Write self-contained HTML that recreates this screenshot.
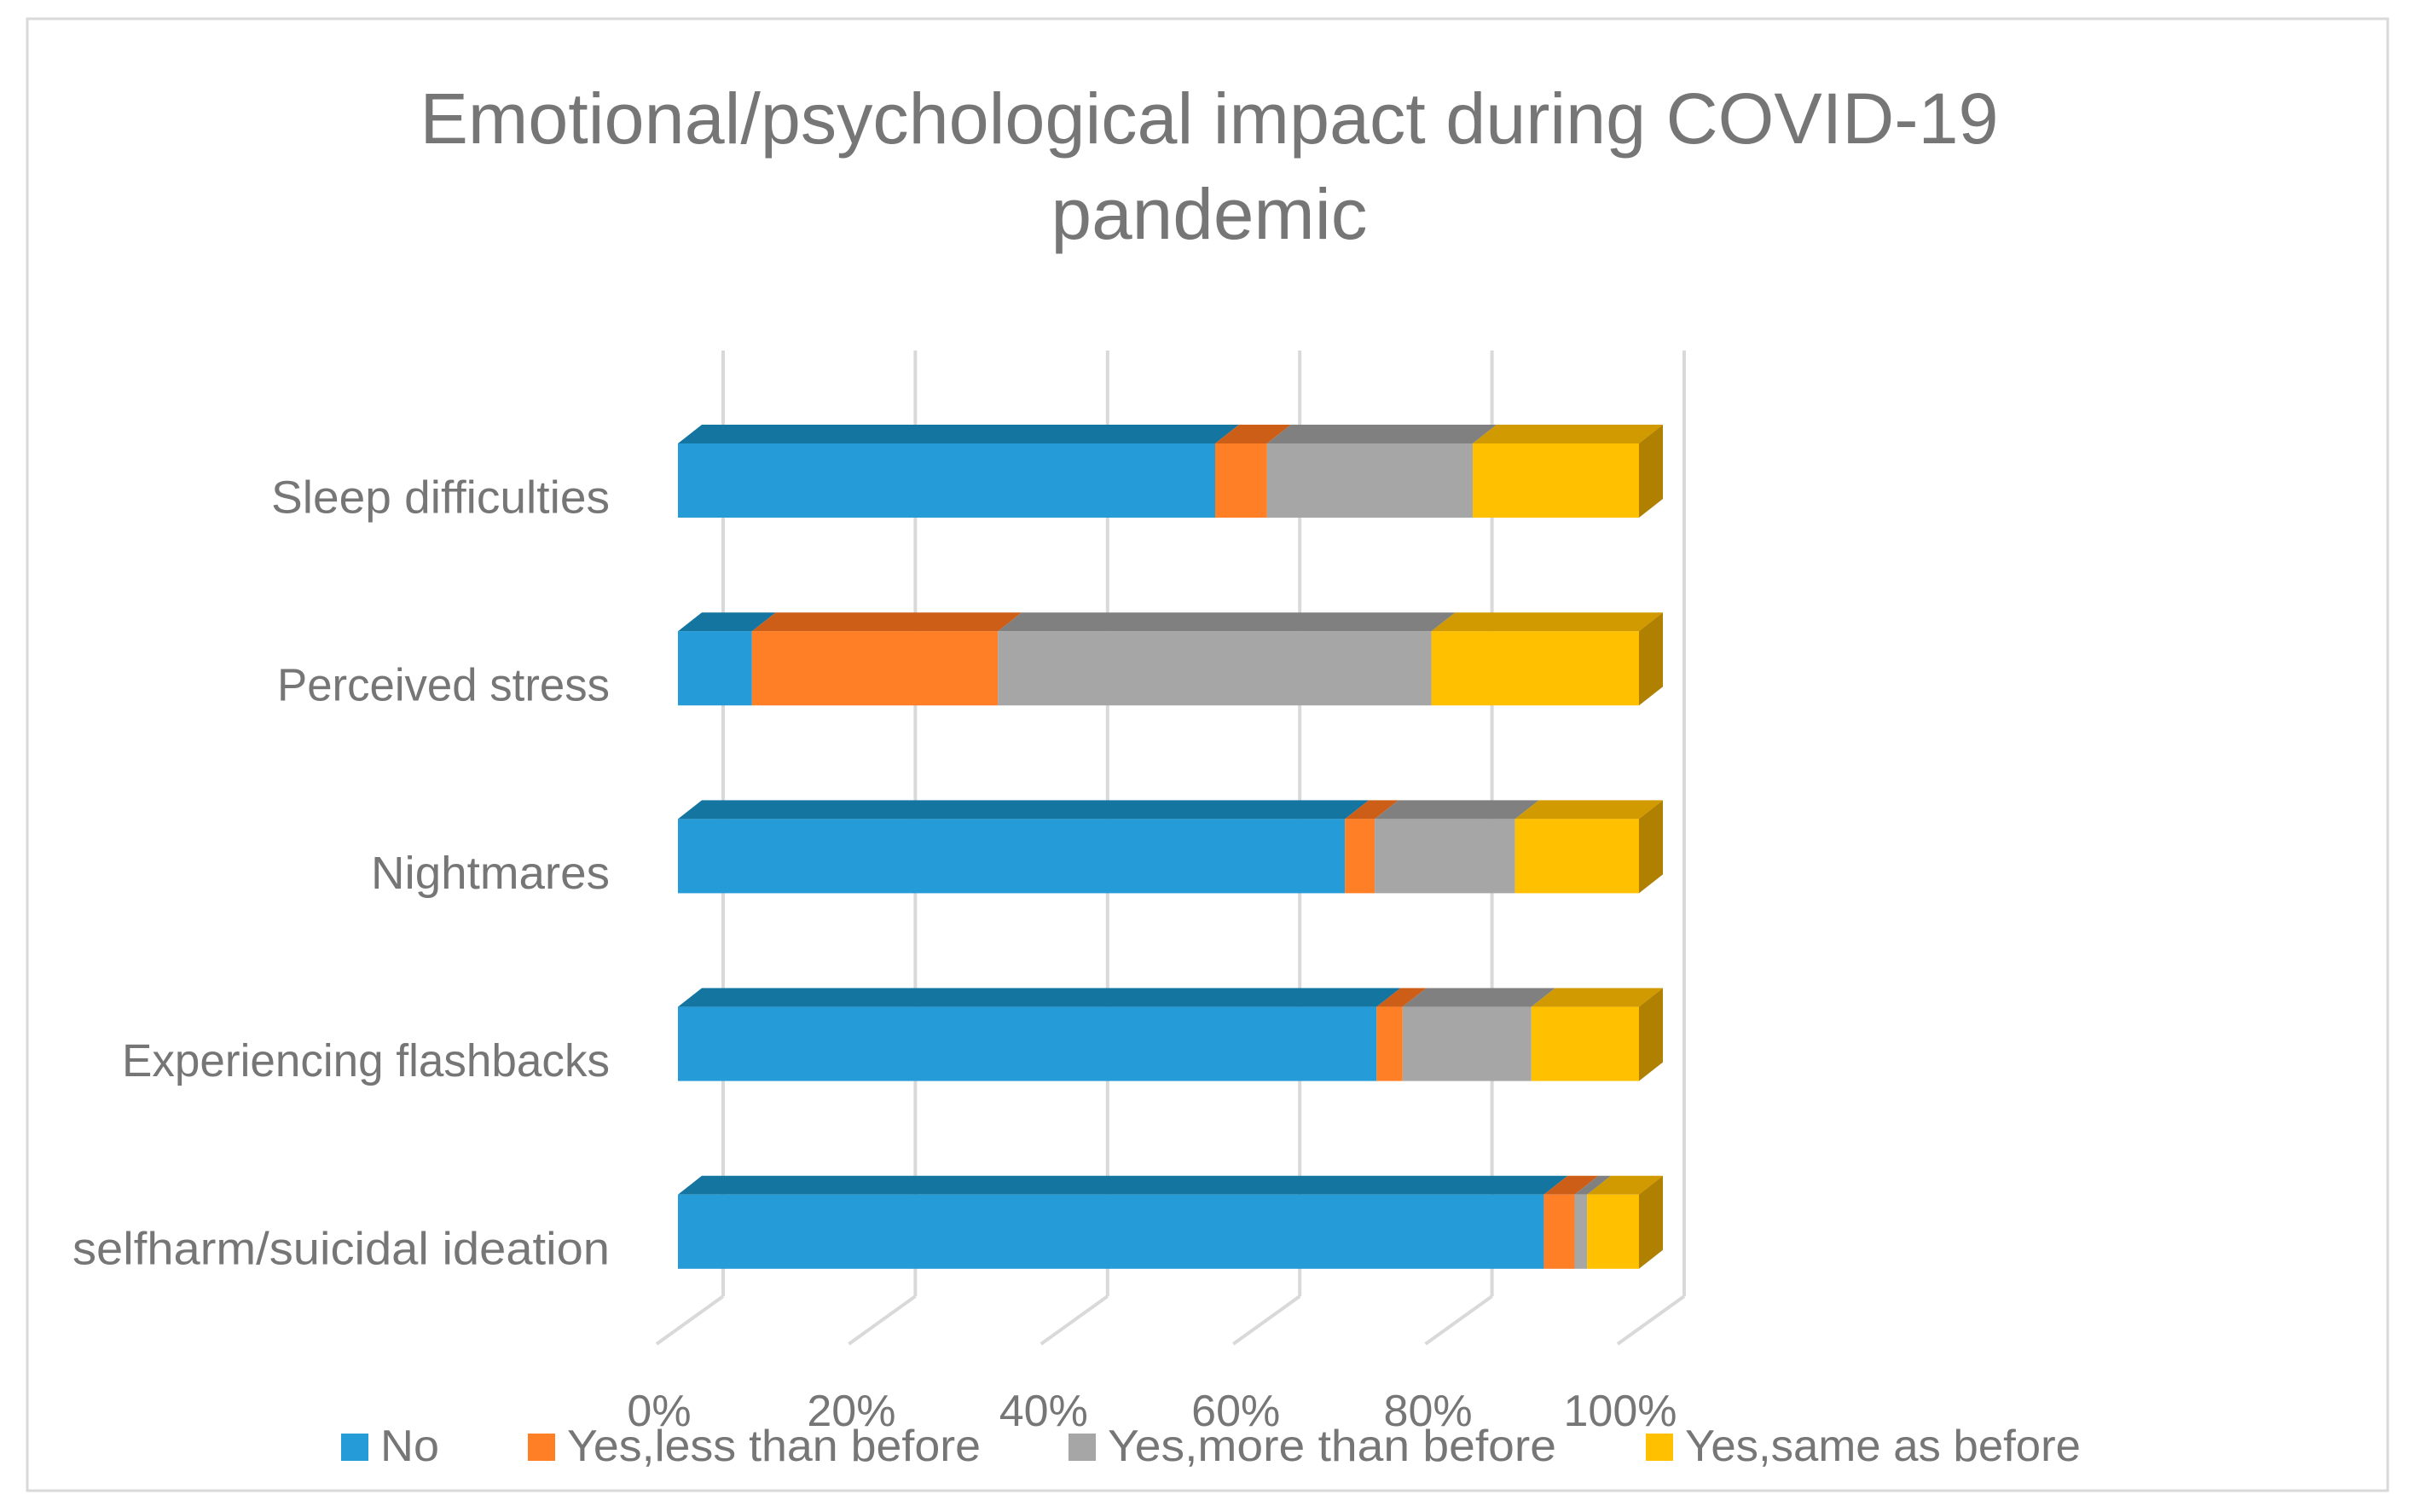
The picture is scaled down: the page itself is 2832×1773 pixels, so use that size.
<!DOCTYPE html>
<html><head><meta charset="utf-8"><style>
html,body{margin:0;padding:0;background:#fff}
svg{display:block}
text{font-family:"Liberation Sans",sans-serif;fill:#767676}
</style></head><body>
<svg id="chart" width="2832" height="1773" viewBox="0 0 2832 1773" xmlns="http://www.w3.org/2000/svg">
<rect x="32" y="22" width="2768" height="1726" fill="#fff" stroke="#d9d9d9" stroke-width="3"/>
<text x="1418" y="168" font-size="84" text-anchor="middle" textLength="1851" lengthAdjust="spacingAndGlyphs">Emotional/psychological impact during COVID-19</text>
<text x="1418" y="280" font-size="84" text-anchor="middle" textLength="371" lengthAdjust="spacingAndGlyphs">pandemic</text>
<g id="grid"></g>
<g id="bars"></g>
<g id="labels"></g>
<g id="ticks"></g>
<g id="legend"></g>
</svg>
<script>
const categories = ["Sleep difficulties","Perceived stress","Nightmares","Experiencing flashbacks","selfharm/suicidal ideation"];
const seriesNames = ["No","Yes,less than before","Yes,more than before","Yes,same as before"];
const noVals = [55.9, 7.7, 69.4, 72.7, 90.1];
const lessVals = [5.4, 25.6, 3.1, 2.7, 3.2];
const moreVals = [21.4, 45.1, 14.6, 13.4, 1.3];
const sameVals = [17.3, 21.6, 12.9, 11.2, 5.4];
const tickLabels = ["0%","20%","40%","60%","80%","100%"];
const tickValues = [0,20,40,60,80,100];

const NS="http://www.w3.org/2000/svg";
const X0=795, W=1127, DX=28, DY=22, BACKX=53;
const barTop0=520, barH=87, barStep=220.2;
const front=["#259bd8","#ff7f27","#a6a6a6","#ffc000"];
const topc=["#1475a0","#cc5e18","#808080","#d09a00"];
const sidec=["#0f5a7c","#a34a12","#6a6a6a","#b08000"];
const series=[noVals,lessVals,moreVals,sameVals];
const labelW=[397,390,280,572,630];
const legendW=[69,485,526,464];
const legendX=[400,619,1253,1930];
function xs(v){return X0+W*v/100;}
function mk(tag,attrs,parent){const e=document.createElementNS(NS,tag);for(const k in attrs)e.setAttribute(k,attrs[k]);parent.appendChild(e);return e;}

const grid=document.getElementById('grid');
tickValues.forEach((t,i)=>{
  const bx=xs(t)+BACKX;
  const l=mk('line',{x1:bx,y1:411,x2:bx,y2:1520,stroke:'#d9d9d9','stroke-width':4},grid);
  
  
  const f=mk('line',{x1:bx,y1:1520,x2:bx-78,y2:1576,stroke:'#d9d9d9','stroke-width':4},grid);
  
  
});

const bars=document.getElementById('bars');
categories.forEach((c,ci)=>{
  const y=barTop0+ci*barStep;
  let cum=0;
  series.forEach((s,si)=>{
    const v=s[ci];
    const xa=xs(cum), xb=xs(cum+v);
    const tp=mk('polygon',{points:`${xa},${y} ${xa+DX},${y-DY} ${xb+DX},${y-DY} ${xb},${y}`,fill:topc[si]},bars);
    
    
    const r=mk('rect',{x:xa,y:y,width:Math.max(0,xb-xa),height:barH,fill:front[si]},bars);
    
    
    cum+=v;
    if(si===series.length-1){
      const sd=mk('polygon',{points:`${xb},${y} ${xb+DX},${y-DY} ${xb+DX},${y+barH-DY} ${xb},${y+barH}`,fill:sidec[si]},bars);
      
      
    }
  });
  const t=mk('text',{x:715,y:y+barH/2+38,'font-size':54,'text-anchor':'end',textLength:labelW[ci],lengthAdjust:'spacingAndGlyphs'},document.getElementById('labels'));
  t.textContent=c;
  
  
});

const ticks=document.getElementById('ticks');
tickValues.forEach((t,i)=>{
  const e=mk('text',{x:xs(t)-22,y:1672,'font-size':52,'text-anchor':'middle'},ticks);
  e.textContent=tickLabels[i];
  
  
});

const legend=document.getElementById('legend');
seriesNames.forEach((n,i)=>{
  const sq=mk('rect',{x:legendX[i],y:1681,width:32,height:32,fill:front[i]},legend);
  
  
  const t=mk('text',{x:legendX[i]+46,y:1713,'font-size':52,textLength:legendW[i],lengthAdjust:'spacingAndGlyphs'},legend);
  t.textContent=n;
  
  
});
</script>
</body></html>
